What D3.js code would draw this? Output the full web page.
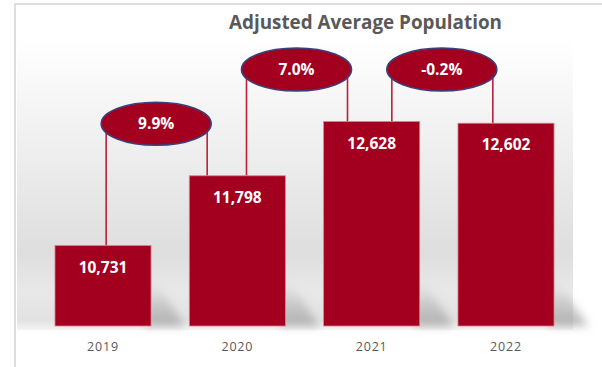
<!DOCTYPE html>
<html>
<head>
<meta charset="utf-8">
<script src="https://cdn.jsdelivr.net/npm/d3@7"></script>
<style>
  html, body { margin: 0; padding: 0; background: #ffffff; }
  svg { display: block; }
</style>
</head>
<body>
<svg id="chart" width="602" height="367"></svg>
<script>
// ---- data ----
const title = "Adjusted Average Population";
const years = ["2019", "2020", "2021", "2022"];
const population = [10731, 11798, 12628, 12602];
const changeLabels = ["9.9%", "7.0%", "-0.2%"];

// ---- layout ----
const W = 602, H = 367;
const svg = d3.select("#chart");
const RED = "#a3001f";
const GREY_TXT = "#595959";

const x = d3.scaleBand().domain(years).range([21.4, 587.6])
  .paddingInner(0.285).paddingOuter(0.25);
const y = d3.scaleLinear().domain([9500, 13000]).range([326, 97.2]);

const defs = svg.append("defs");
const bg = defs.append("linearGradient").attr("id", "bg")
  .attr("x1", 0).attr("y1", 0).attr("x2", 0).attr("y2", 1);
[[0, "#ffffff"], [0.1, "#ffffff"], [0.45, "#eeeeee"], [0.76, "#dedede"],
 [0.88, "#e8e8e8"], [0.97, "#e2e2e2"], [1, "#f4f4f4"]].forEach(([o, c]) =>
  bg.append("stop").attr("offset", o).attr("stop-color", c));

const sh = defs.append("linearGradient").attr("id", "shadow")
  .attr("x1", 0).attr("y1", 0).attr("x2", 0).attr("y2", 1);
[[0, "#b8b8b8", 0], [0.5, "#b0b0b0", 0.55], [1, "#a8a8a8", 0.85]].forEach(([o, c, a]) =>
  sh.append("stop").attr("offset", o).attr("stop-color", c).attr("stop-opacity", a));
defs.append("filter").attr("id", "blur").attr("x", "-30%").attr("y", "-30%")
  .attr("width", "160%").attr("height", "160%")
  .append("feGaussianBlur").attr("stdDeviation", 4);

// frame
svg.append("rect").attr("x", 15).attr("y", 4).attr("width", W).attr("height", H)
  .attr("fill", "#ffffff").attr("stroke", "#d4d4d4").attr("stroke-width", 1.5);
// plot background
svg.append("rect").attr("x", 17).attr("y", 6).attr("width", 556).attr("height", 324)
  .attr("fill", "url(#bg)");

// bar shadows
const base = y(9500);
svg.append("g").attr("filter", "url(#blur)")
  .selectAll("path").data(years).join("path")
  .attr("d", d => {
    const x0 = x(d) + x.bandwidth() - 6, x1 = x(d) + x.bandwidth() + 34;
    const top = base - 42;
    return `M${x0},${base} L${x0},${top} L${x0 + 12},${top} L${x1},${base} Z`;
  })
  .attr("fill", "url(#shadow)");

// title
svg.append("text").attr("x", 365.5).attr("y", 29)
  .attr("text-anchor", "middle")
  .attr("font-family", "'Open Sans', sans-serif").attr("font-weight", 700)
  .attr("font-size", 19).attr("fill", GREY_TXT)
  .attr("textLength", 273).attr("lengthAdjust", "spacingAndGlyphs")
  .text(title);

// bubble geometry derived from data
const rx = 55, ry = 21.5;
const shifts = [-14, -8, 3];
const bubbles = changeLabels.map((lab, i) => {
  const ca = x(years[i]) + x.bandwidth() / 2;
  const cb = x(years[i + 1]) + x.bandwidth() / 2;
  const cx = (ca + cb) / 2 + shifts[i];
  const cy = y(Math.max(population[i], population[i + 1])) - 52;
  return { lab, cx, cy, yl: y(population[i]), yr: y(population[i + 1]) };
});

// connector lines
const lg = svg.append("g").attr("stroke", "#b8203c").attr("stroke-width", 1.6).attr("fill", "none");
bubbles.forEach(b => {
  lg.append("line").attr("x1", b.cx - rx + 5).attr("x2", b.cx - rx + 5)
    .attr("y1", b.cy + 8).attr("y2", b.yl);
  lg.append("line").attr("x1", b.cx + rx - 4).attr("x2", b.cx + rx - 4)
    .attr("y1", b.cy + 8).attr("y2", b.yr);
});

// bars
svg.append("g").selectAll("rect").data(population).join("rect")
  .attr("x", (d, i) => x(years[i]))
  .attr("y", d => y(d))
  .attr("width", x.bandwidth())
  .attr("height", d => y(9500) - y(d))
  .attr("fill", RED)
  .attr("stroke", "#d98090").attr("stroke-width", 0.8);

// value labels
svg.append("g").selectAll("text").data(population).join("text")
  .attr("x", (d, i) => x(years[i]) + x.bandwidth() / 2)
  .attr("y", d => y(d) + 27)
  .attr("text-anchor", "middle")
  .attr("font-family", "'Open Sans', sans-serif").attr("font-weight", 700)
  .attr("font-size", 15.5).attr("fill", "#ffffff")
  .text(d => d3.format(",")(d));

// bubbles
const bg2 = svg.append("g");
bubbles.forEach(b => {
  bg2.append("ellipse").attr("cx", b.cx).attr("cy", b.cy).attr("rx", rx).attr("ry", ry)
    .attr("fill", RED).attr("stroke", "#3d3f7a").attr("stroke-width", 1.6);
  bg2.append("text").attr("x", b.cx).attr("y", b.cy + 5.5)
    .attr("text-anchor", "middle")
    .attr("font-family", "'Open Sans', sans-serif").attr("font-weight", 700)
    .attr("font-size", 15.5).attr("fill", "#ffffff")
    .text(b.lab);
});

// x axis labels
const xAxis = d3.axisBottom(x).tickSize(0).tickPadding(0);
const ax = svg.append("g").attr("transform", `translate(0,${y(9500) + 16})`).call(xAxis);
ax.select(".domain").remove();
ax.selectAll("text")
  .attr("font-family", "'Open Sans', sans-serif").attr("font-size", 12.5)
  .attr("fill", GREY_TXT).attr("letter-spacing", 0.8);
</script>
</body>
</html>
